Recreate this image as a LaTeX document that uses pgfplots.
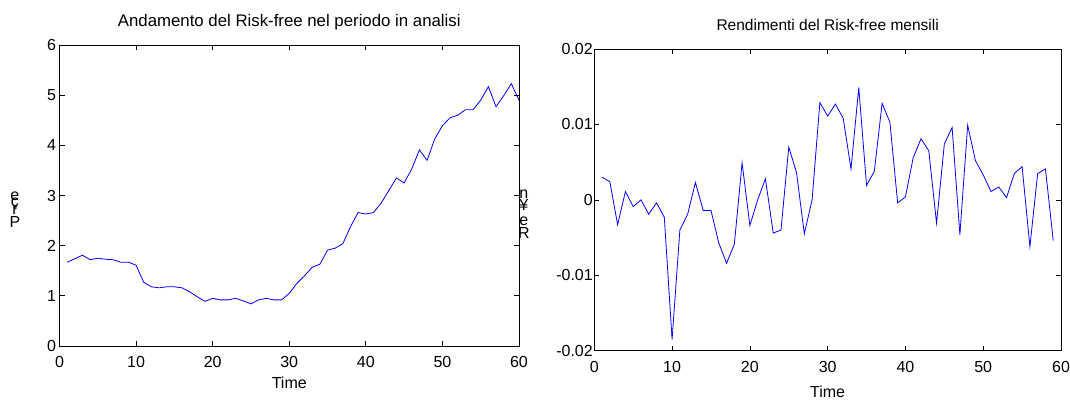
\documentclass[border=0pt]{standalone}
\usepackage{pgfplots}
\pgfplotsset{compat=1.18}
\usepackage{fontspec}
\setmainfont{Liberation Sans}

% Risk-free level over the 60 months of the sample
\pgfplotstableread{
t   rf
1   1.67
2   1.74
3   1.81
4   1.72
5   1.75
6   1.73
7   1.72
8   1.67
9   1.67
10  1.61
11  1.27
12  1.18
13  1.16
14  1.18
15  1.18
16  1.16
17  1.08
18  0.98
19  0.89
20  0.95
21  0.92
22  0.92
23  0.95
24  0.90
25  0.84
26  0.92
27  0.95
28  0.92
29  0.92
30  1.05
31  1.25
32  1.40
33  1.57
34  1.63
35  1.91
36  1.95
37  2.04
38  2.38
39  2.66
40  2.63
41  2.66
42  2.85
43  3.10
44  3.35
45  3.25
46  3.53
47  3.91
48  3.70
49  4.13
50  4.39
51  4.55
52  4.60
53  4.71
54  4.71
55  4.90
56  5.17
57  4.77
58  4.99
59  5.23
60  4.90
}\rflevel

% Monthly returns of the risk-free rate
\pgfplotstableread{
t   ret
1   0.0030
2   0.0024
3   -0.0033
4   0.0011
5   -0.0009
6   0.0000
7   -0.0019
8   -0.0004
9   -0.0023
10  -0.0185
11  -0.0040
12  -0.0019
13  0.0023
14  -0.0014
15  -0.0014
16  -0.0057
17  -0.0084
18  -0.0059
19  0.0049
20  -0.0034
21  0.0000
22  0.0028
23  -0.0044
24  -0.0040
25  0.0070
26  0.0036
27  -0.0045
28  0.0000
29  0.0129
30  0.0111
31  0.0127
32  0.0108
33  0.0041
34  0.0149
35  0.0019
36  0.0038
37  0.0128
38  0.0103
39  -0.0004
40  0.0004
41  0.0056
42  0.0081
43  0.0065
44  -0.0031
45  0.0074
46  0.0096
47  -0.0046
48  0.0099
49  0.0052
50  0.0033
51  0.0011
52  0.0017
53  0.0003
54  0.0035
55  0.0044
56  -0.0062
57  0.0035
58  0.0041
59  -0.0054
}\rfret

\pgfplotsset{
  mlab/.style={
    scale only axis,
    axis line style={black, line width=0.9pt},
    tick style={black, line width=0.7pt},
    tick align=inside,
    major tick length=5pt,
    xmin=0, xmax=60, xtick={0,10,...,60},
    font=\fontsize{16}{18}\selectfont,
    /pgf/number format/assume math mode=true,
    title style={anchor=center, at={(0.5,1)}},
    xticklabel style={yshift=-7pt},
    xlabel style={anchor=center, at={(0.5,0)}},
    ylabel style={rotate=-90, anchor=center, font=\fontsize{16}{16}\selectfont},
  },
}

\begin{document}
\begin{tikzpicture}
\useasboundingbox (0pt,0pt) rectangle (1070pt,-399pt);

\begin{axis}[mlab,
  at={(59.5pt,-45pt)}, anchor=north west,
  width=459.5pt, height=301pt,
  ymin=0, ymax=6, ytick={0,1,...,6},
  title={Andamento del Risk-free nel periodo in analisi},
  title style={yshift=17pt, font=\fontsize{16.8}{18}\selectfont},
  xlabel={Time}, xlabel style={yshift=-37pt},
  ylabel={\begin{tabular}{@{}c@{}}e\\[-10pt]ç\\[-8pt]r\\[-3pt]P\end{tabular}},
  ylabel style={at={(axis description cs:-0.097,0.449)}},
]
\addplot[blue, line width=0.8pt] table[x=t, y=rf] {\rflevel};
\end{axis}

\begin{axis}[mlab,
  at={(594.3pt,-49pt)}, anchor=north west,
  width=466.7pt, height=301.7pt,
  ymin=-0.02, ymax=0.02,
  scaled y ticks=false,
  ytick={-0.02,-0.01,0,0.01,0.02},
  yticklabels={-0.02,-0.01,0,0.01,0.02},
  yticklabel style={xshift=2pt},
  title={Rendimenti del Risk-free mensili},
  title style={yshift=18pt, font=\fontsize{15.5}{17}\selectfont},
  xlabel={Time}, xlabel style={yshift=-41pt},
  ylabel={\begin{tabular}{@{}c@{}}n\\[-4pt]¥\\[-1pt]e\\[-3pt]R\end{tabular}},
  ylabel style={at={(axis description cs:-0.151,0.45)}},
]
\addplot[blue, line width=0.8pt] table[x=t, y=ret] {\rfret};
\end{axis}
\end{tikzpicture}
\end{document}
